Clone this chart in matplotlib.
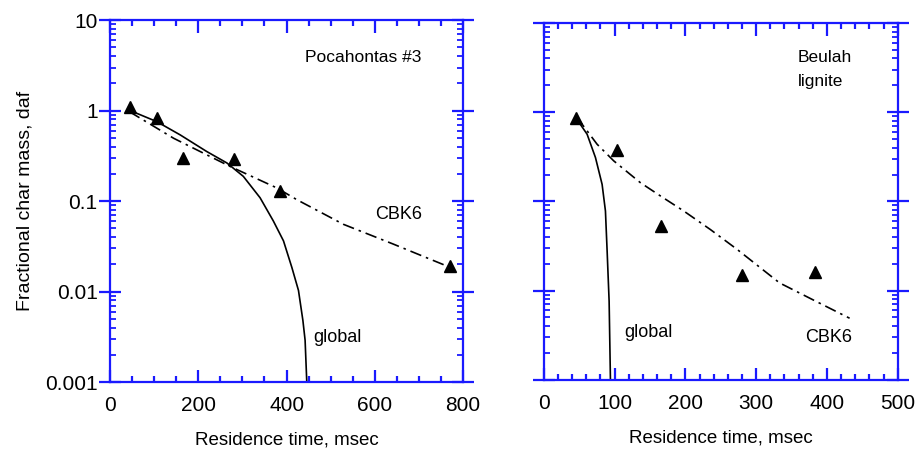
import matplotlib.pyplot as plt
from matplotlib.ticker import FixedLocator, LogLocator, MultipleLocator, NullFormatter

plt.rcParams['font.family'] = ['Liberation Sans', 'DejaVu Sans']

blue = '#1a1aff'

# Pocahontas #3
poc_t = [45, 106, 166, 280, 385, 770]
poc_m = [1.1, 0.82, 0.30, 0.29, 0.13, 0.019]
poc_glob_t = [42, 106, 159, 219, 265, 302, 340, 370, 393, 412, 427, 437, 442, 446]
poc_glob_m = [1.02, 0.757, 0.54, 0.354, 0.264, 0.188, 0.109, 0.0604, 0.0364,
              0.0185, 0.0103, 0.0048, 0.0029, 0.00095]
poc_cbk_t = [44, 144, 204, 272, 378, 423, 529, 642, 771]
poc_cbk_m = [0.975, 0.496, 0.354, 0.242, 0.14, 0.104, 0.0554, 0.0335, 0.0185]

# Beulah lignite
beu_t = [46, 104, 166, 280, 383]
beu_m = [0.87, 0.38, 0.053, 0.015, 0.016]
beu_glob_t = [45, 61.2, 73, 82.4, 87.1, 89.5, 92.3, 94.2]
beu_glob_m = [0.87, 0.566, 0.31, 0.155, 0.078, 0.0276, 0.0076, 0.00095]
beu_cbk_t = [47, 61.2, 75.3, 98.9, 136.5, 164.8, 197.7, 235.4, 273, 333, 380, 432]
beu_cbk_m = [0.87, 0.617, 0.437, 0.284, 0.162, 0.115, 0.078, 0.0483, 0.029, 0.0122,
             0.0079, 0.0049]

y_ticks = [0.001, 0.01, 0.1, 1, 10]
y_labels = ['0.001', '0.01', '0.1', '1', '10']

fig = plt.figure(figsize=(9.17, 4.5), dpi=100)
ax1 = fig.add_axes([0.12, 0.151, 0.385, 0.804])
ax2 = fig.add_axes([0.593, 0.156, 0.386, 0.793])


def style(ax, xmax, xmaj, xmin, show_y):
    ax.set_yscale('log')
    ax.set_xlim(0, xmax)
    ax.set_ylim(0.001, 10)
    for s in ax.spines.values():
        s.set_color(blue)
        s.set_linewidth(1.6)
    ax.xaxis.set_major_locator(MultipleLocator(xmaj))
    ax.xaxis.set_minor_locator(MultipleLocator(xmin))
    ax.yaxis.set_major_locator(FixedLocator(y_ticks))
    ax.yaxis.set_minor_locator(LogLocator(base=10, subs=range(2, 10)))
    ax.yaxis.set_minor_formatter(NullFormatter())
    if show_y:
        ax.set_yticklabels(y_labels)
    else:
        ax.set_yticklabels([])
    ax.tick_params(axis='x', which='major', direction='in', length=9, width=1.6,
                   color=blue, top=True, labelsize=15, pad=10)
    ax.tick_params(axis='x', which='minor', direction='in', length=4.5, width=1.6,
                   color=blue, top=True)
    ax.tick_params(axis='y', which='major', direction='inout', length=16, width=1.6,
                   color=blue, right=True, labelsize=15, pad=1)
    ax.tick_params(axis='y', which='minor', direction='in', length=4, width=1.3,
                   color=blue, right=True)
    ax.set_xlabel('Residence time, msec', fontsize=13.5, labelpad=12)


style(ax1, 800, 200, 50, True)
style(ax2, 500, 100, 20, False)
ax1.set_ylabel('Fractional char mass, daf', fontsize=14, labelpad=8)

dd = (0, (7, 3, 1.5, 3))

ax1.plot(poc_glob_t, poc_glob_m, color='black', lw=1.2)
ax1.plot(poc_cbk_t, poc_cbk_m, color='black', lw=1.2, linestyle=dd)
ax1.plot(poc_t, poc_m, '^', color='black', ms=9, clip_on=False)
ax1.text(442, 3.9, 'Pocahontas #3', fontsize=12.5, va='center')
ax1.text(601, 0.072, 'CBK6', fontsize=13, va='center')
ax1.text(460, 0.0031, 'global', fontsize=13, va='center')

ax2.plot(beu_glob_t, beu_glob_m, color='black', lw=1.2)
ax2.plot(beu_cbk_t, beu_cbk_m, color='black', lw=1.2, linestyle=dd)
ax2.plot(beu_t, beu_m, '^', color='black', ms=9)
ax2.text(359, 4.15, 'Beulah', fontsize=12.5, va='center')
ax2.text(359, 2.23, 'lignite', fontsize=12.5, va='center')
ax2.text(114, 0.0034, 'global', fontsize=13, va='center')
ax2.text(369, 0.003, 'CBK6', fontsize=13, va='center')

fig.savefig('out.png', dpi=100)
